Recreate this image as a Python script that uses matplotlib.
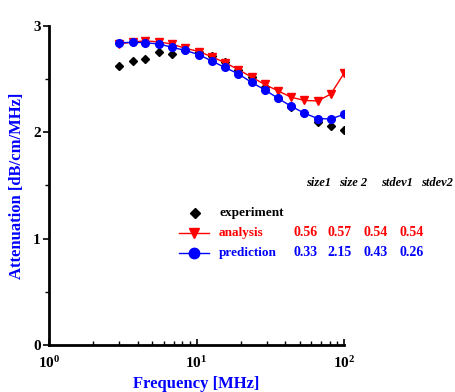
#!/usr/bin/env python3
import matplotlib
matplotlib.use("Agg")
import matplotlib.pyplot as plt
from matplotlib.lines import Line2D
from matplotlib.ticker import LogLocator, FixedLocator

plt.rcParams['font.family'] = ['Liberation Serif', 'DejaVu Serif']
plt.rcParams['font.weight'] = 'bold'
plt.rcParams['mathtext.fontset'] = 'custom'
plt.rcParams['mathtext.rm'] = 'Liberation Serif:bold'
plt.rcParams['mathtext.bf'] = 'Liberation Serif:bold'

# frequencies [MHz]
freq = [3.0, 3.7, 4.5, 5.6, 6.8, 8.4, 10.4, 12.7, 15.6, 19.2, 23.6,
        29.0, 35.7, 43.8, 53.9, 66.2, 81.4, 100.0]
experiment = [2.62, 2.67, 2.69, 2.76, 2.74, 2.77, 2.76, 2.72, 2.66, 2.59,
              2.52, 2.43, 2.32, 2.24, 2.18, 2.10, 2.06, 2.02]
analysis = [2.83, 2.85, 2.86, 2.85, 2.83, 2.79, 2.76, 2.71, 2.655, 2.59,
            2.52, 2.45, 2.39, 2.33, 2.30, 2.295, 2.36, 2.555]
prediction = [2.843, 2.846, 2.843, 2.83, 2.80, 2.77, 2.73, 2.67, 2.61,
              2.55, 2.47, 2.40, 2.32, 2.245, 2.18, 2.13, 2.125, 2.17]

headers = ['size1', 'size 2', 'stdev1', 'stdev2']
analysis_params = ['0.56', '0.57', '0.54', '0.54']
prediction_params = ['0.33', '2.15', '0.43', '0.26']

fig = plt.figure(figsize=(4.55, 3.92), dpi=100, facecolor='white')
ax = fig.add_axes([0.1077, 0.1199, 0.6484, 0.8138])

ax.plot(freq, experiment, linestyle='none', marker='D', color='black',
        markersize=4)
ax.plot(freq, analysis, color='red', lw=1.0, marker='v', markersize=5.8)
ax.plot(freq, prediction, color='blue', lw=1.0, marker='o', markersize=5.5)

ax.set_xscale('log')
ax.set_xlim(1, 100)
ax.set_ylim(0, 3)
ax.set_yticks([0, 1, 2, 3])
ax.yaxis.set_minor_locator(FixedLocator([0.5, 1.5, 2.5]))
ax.xaxis.set_major_locator(LogLocator(base=10))
ax.xaxis.set_minor_locator(LogLocator(base=10, subs=range(2, 10)))

for s in ['top', 'right']:
    ax.spines[s].set_visible(False)
for s in ['left', 'bottom']:
    ax.spines[s].set_linewidth(2)
ax.tick_params(axis='y', which='major', direction='out', length=4, width=1.2,
               labelsize=11, pad=2)
ax.tick_params(axis='y', which='minor', direction='out', length=3, width=1)
ax.tick_params(axis='x', which='major', direction='in', length=4, width=1.2,
               labelsize=11, pad=7)
ax.tick_params(axis='x', which='minor', direction='in', length=3, width=1)

ax.set_xlabel('Frequency [MHz]', color='blue', fontsize=12, fontweight='bold')
ax.set_ylabel('Attenuation [dB/cm/MHz]', color='blue', fontsize=12,
              fontweight='bold', labelpad=6)

# legend / parameter table in figure pixels
def fx(px):
    return px / 455.0

def fy(py):
    return 1 - py / 392.0

hx = [306, 339, 381, 421]
for h, x in zip(headers, hx):
    fig.text(fx(x), fy(183), h, fontsize=9, style='italic',
             fontweight='bold', va='center', ha='left')

fig.add_artist(Line2D([fx(195)], [fy(213)], marker='D', color='black',
                      markersize=5.5, transform=fig.transFigure))
fig.add_artist(Line2D([fx(179), fx(209)], [fy(233), fy(233)], color='red',
                      lw=1.0, transform=fig.transFigure))
fig.add_artist(Line2D([fx(194)], [fy(233)], marker='v', color='red',
                      markersize=7.5, transform=fig.transFigure))
fig.add_artist(Line2D([fx(179), fx(209)], [fy(253), fy(253)], color='blue',
                      lw=1.0, transform=fig.transFigure))
fig.add_artist(Line2D([fx(194)], [fy(253)], marker='o', color='blue',
                      markersize=7.5, transform=fig.transFigure))

fig.text(fx(219), fy(213), 'experiment', fontsize=9.5, fontweight='bold',
         va='center', ha='left', color='black')
fig.text(fx(219), fy(233), 'analysis', fontsize=9.5, fontweight='bold',
         va='center', ha='left', color='red')
fig.text(fx(219), fy(253), 'prediction', fontsize=9.5, fontweight='bold',
         va='center', ha='left', color='blue')

vx = [293, 327, 363, 399]
for v, x in zip(analysis_params, vx):
    fig.text(fx(x), fy(233), v, fontsize=10, fontweight='bold',
             va='center', ha='left', color='red')
for v, x in zip(prediction_params, vx):
    fig.text(fx(x), fy(253), v, fontsize=10, fontweight='bold',
             va='center', ha='left', color='blue')

fig.savefig('out.png', dpi=100, facecolor='white')
